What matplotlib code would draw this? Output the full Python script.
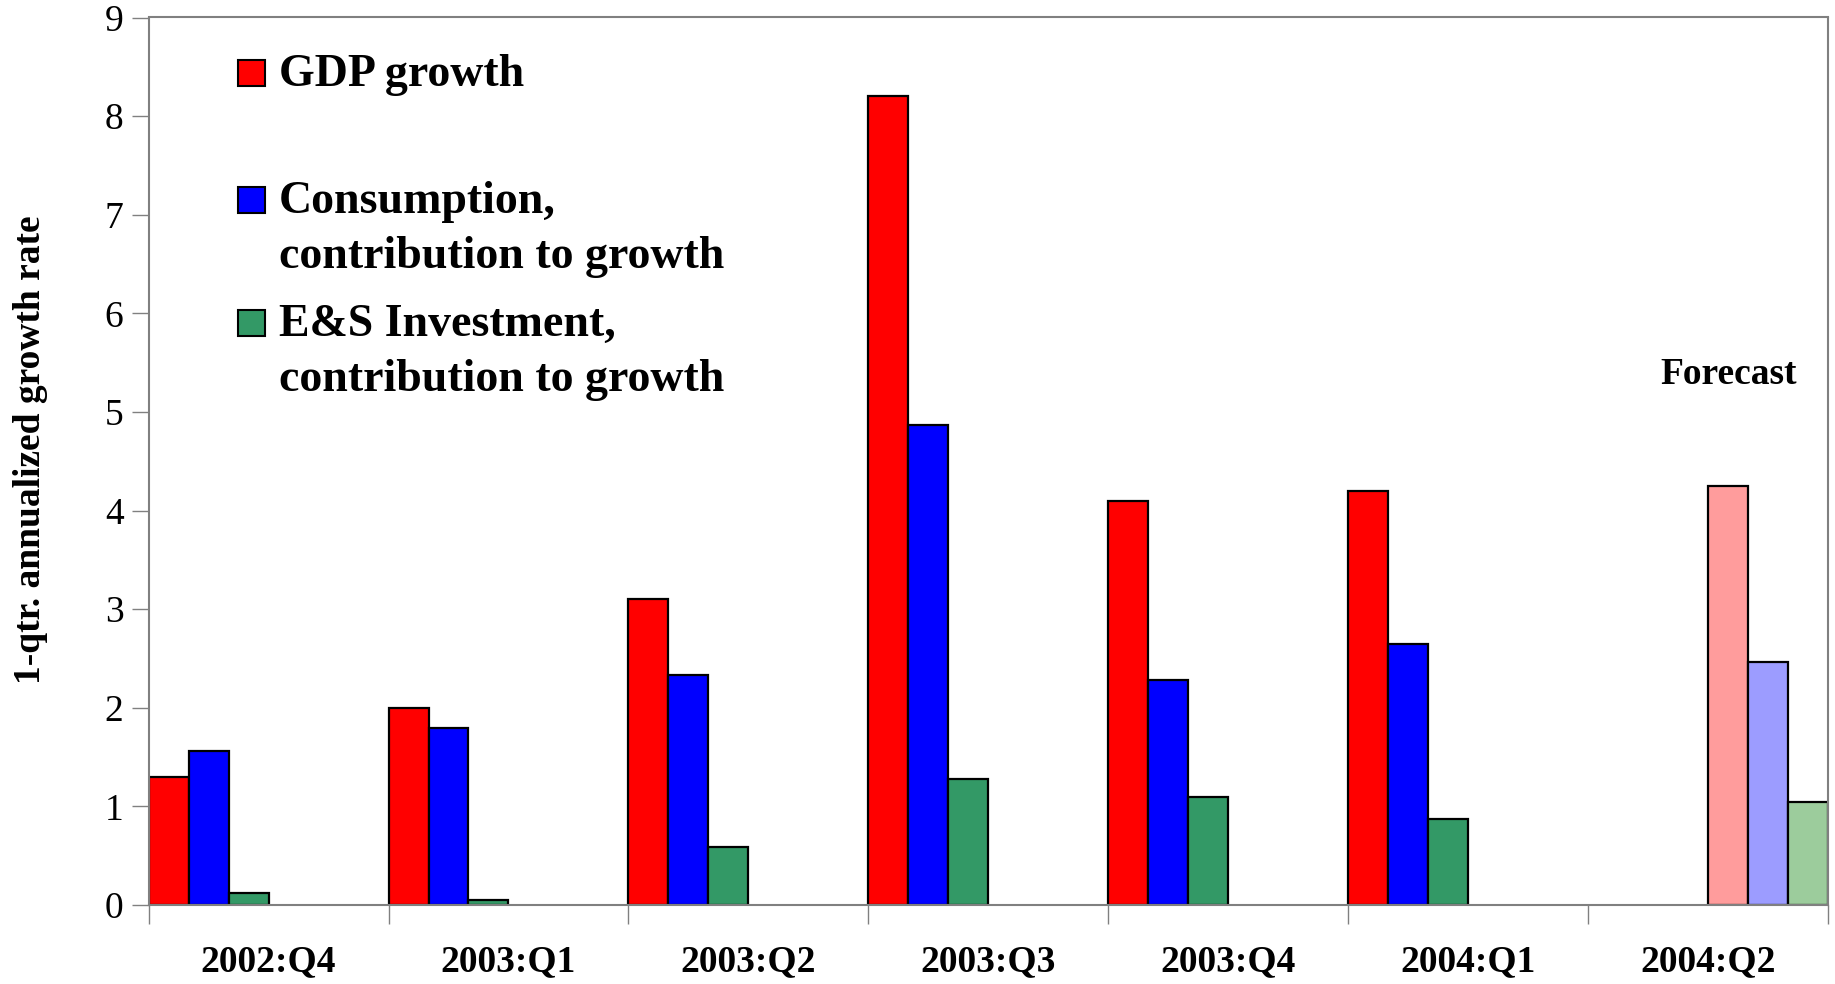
import matplotlib
matplotlib.use('Agg')
import matplotlib.pyplot as plt
from matplotlib.patches import Rectangle
import numpy as np

# quarters and values
quarters = ['2002:Q4', '2003:Q1', '2003:Q2', '2003:Q3', '2003:Q4', '2004:Q1', '2004:Q2']
gdp = [1.3, 2.0, 3.1, 8.2, 4.1, 4.2]
consumption = [1.56, 1.8, 2.33, 4.87, 2.28, 2.65]
es_invest = [0.12, 0.05, 0.59, 1.28, 1.1, 0.87]
# forecast for 2004:Q2
gdp_fc = [4.25]
consumption_fc = [2.46]
es_invest_fc = [1.04]

labels = ['GDP growth', 'Consumption,\ncontribution to growth', 'E&S Investment,\ncontribution to growth']
colors = ['#ff0000', '#0000ff', '#339966']
colors_fc = ['#ff9c9c', '#9c9cff', '#9ccc9c']

plt.rcParams['font.family'] = ['Liberation Serif', 'DejaVu Serif']

W, H = 1835, 984
fig = plt.figure(figsize=(W / 100, H / 100), dpi=100)
ax = fig.add_axes([148.6 / W, 1 - 905 / H, (1828 - 148.6) / W, (905 - 17.5) / H])

slot = 1 / 6
n_act = len(gdp)
x_act = np.arange(n_act)
x_fc = np.arange(n_act, n_act + len(gdp_fc))

for j, (vals, c) in enumerate(zip([gdp, consumption, es_invest], colors)):
    ax.bar(x_act + (j + 0.5) * slot, vals, width=slot, color=c, edgecolor='black', linewidth=1.6)
for j, (vals, c) in enumerate(zip([gdp_fc, consumption_fc, es_invest_fc], colors_fc)):
    ax.bar(x_fc + (j + 3.5) * slot, vals, width=slot, color=c, edgecolor='black', linewidth=1.6)

ax.set_xlim(0, len(quarters))
ax.set_ylim(0, 9)
ax.set_yticks(range(10))
ax.set_yticklabels([str(v) for v in range(10)], fontsize=27)
ax.set_xticks(range(len(quarters) + 1))
ax.set_xticklabels([])
ax.set_xticks(np.arange(len(quarters)) + 0.5, minor=True)
ax.set_xticklabels(quarters, minor=True, fontsize=27, fontweight='bold')
ax.tick_params(axis='x', which='major', length=14, width=1, color='#808080', direction='out')
ax.tick_params(axis='x', which='minor', length=0, pad=28)
ax.tick_params(axis='y', length=12, width=1, color='#808080', direction='out', pad=6)
for s in ax.spines.values():
    s.set_color('#808080')
    s.set_linewidth(1.5)

fig.text(31 / W, 1 - 450 / H, '1-qtr. annualized growth rate', rotation=90,
         ha='center', va='center', fontsize=27, fontweight='bold')

fig.text(1729 / W, 1 - 374 / H, 'Forecast', ha='center', va='center', fontsize=27, fontweight='bold')

# legend drawn by hand to keep the uneven spacing of the original
leg_y = [73, 200, 323]
for yy, lab, c in zip(leg_y, labels, colors):
    fig.patches.append(Rectangle((238 / W, 1 - (yy + 13) / H), 27 / W, 26 / H,
                                 transform=fig.transFigure, facecolor=c, edgecolor='black', linewidth=1.5))
    fig.text(279 / W, 1 - (yy - 19) / H, lab, ha='left', va='top', fontsize=33,
             fontweight='bold', linespacing=1.4)

fig.savefig('out.png', dpi=100)
